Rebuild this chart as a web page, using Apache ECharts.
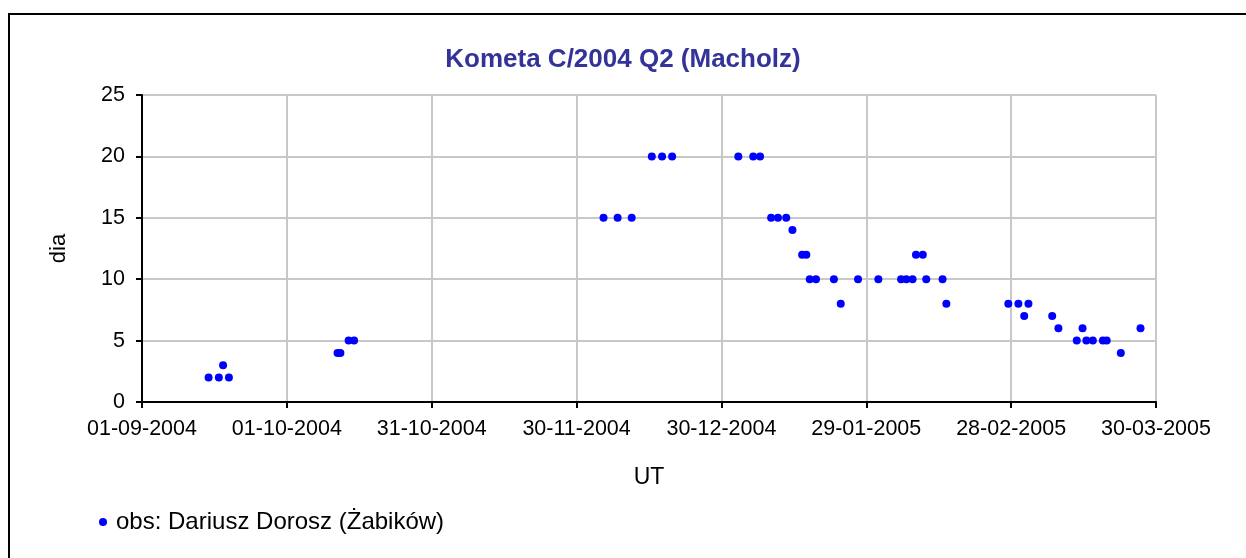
<!DOCTYPE html>
<html>
<head>
<meta charset="utf-8">
<title>Kometa C/2004 Q2 (Macholz)</title>
<script src="https://cdn.jsdelivr.net/npm/echarts@6/dist/echarts.min.js"></script>
<style>
  html, body { margin: 0; padding: 0; background: #fff; }
  #chart { width: 1246px; height: 558px; }
</style>
</head>
<body>
<div id="chart"></div>
<script>
// observation times (UT) and coma diameter
const obsDates = [
  '2004-09-14T19:00', '2004-09-16T22:00', '2004-09-17T19:00', '2004-09-19T00:00',
  '2004-10-11T12:00', '2004-10-12T02:00', '2004-10-13T19:00', '2004-10-14T22:00',
  '2004-12-05T14:00', '2004-12-08T12:00', '2004-12-11T10:00',
  '2004-12-15T14:00', '2004-12-17T17:00', '2004-12-19T19:00',
  '2005-01-02T12:00', '2005-01-05T14:00', '2005-01-07T00:00',
  '2005-01-09T07:00', '2005-01-10T17:00', '2005-01-12T10:00', '2005-01-13T17:00',
  '2005-01-15T17:00', '2005-01-16T14:00', '2005-01-17T07:00', '2005-01-18T14:00',
  '2005-01-22T07:00', '2005-01-23T17:00', '2005-01-27T07:00', '2005-01-31T12:00',
  '2005-02-05T05:00', '2005-02-06T07:00', '2005-02-07T14:00', '2005-02-08T07:00',
  '2005-02-09T17:00', '2005-02-10T10:00', '2005-02-13T19:00', '2005-02-14T14:00',
  '2005-02-27T10:00', '2005-03-01T12:00', '2005-03-02T17:00', '2005-03-03T14:00',
  '2005-03-08T12:00', '2005-03-09T19:00', '2005-03-13T14:00', '2005-03-14T19:00',
  '2005-03-15T14:00', '2005-03-16T22:00', '2005-03-19T00:00', '2005-03-19T19:00',
  '2005-03-22T17:00', '2005-03-26T19:00'
]
const diaValues = [
  2, 2, 3, 2,
  4, 4, 5, 5,
  15, 15, 15,
  20, 20, 20,
  20, 20, 20,
  15, 15, 15, 14,
  12, 12, 10, 10,
  10, 8, 10, 10,
  10, 10, 10, 12,
  12, 10, 10, 8,
  8, 8, 7, 8,
  7, 6, 5, 6,
  5, 5, 5, 5,
  4, 6
]

const axisStart = '2004-09-01'
const axisEnd = '2005-03-30'
const tickDays = 30

const DAY = 86400000
const t0 = Date.parse(axisStart + 'T00:00:00Z')
const toDay = s => (Date.parse((s.length > 10 ? s : s + 'T00:00') + ':00Z') - t0) / DAY

const pad = n => (n < 10 ? '0' : '') + n
const fmtDay = v => {
  const d = new Date(t0 + Math.round(v) * DAY)
  return pad(d.getUTCDate()) + '-' + pad(d.getUTCMonth() + 1) + '-' + d.getUTCFullYear()
}

const seriesData = obsDates.map((s, i) => [toDay(s), diaValues[i]])

const font = 'Arial, "Liberation Sans", sans-serif'
const chart = echarts.init(document.getElementById('chart'))

chart.setOption({
  animation: false,
  textStyle: { fontFamily: font },
  title: {
    text: 'Kometa C/2004 Q2 (Macholz)',
    left: 'center',
    top: 42,
    textStyle: { fontSize: 26, fontWeight: 'bold', color: '#333399', fontFamily: font }
  },
  legend: {
    left: 94,
    top: 505,
    itemWidth: 8,
    itemHeight: 8,
    itemGap: 6,
    textStyle: { fontSize: 24, color: '#000', fontFamily: font, padding: [0, 0, 0, 4] },
    data: [{ name: 'obs: Dariusz Dorosz (Żabików)', icon: 'circle' }]
  },
  grid: { left: 142, right: 90, top: 95, bottom: 156, containLabel: false },
  xAxis: {
    type: 'value',
    min: 0,
    max: toDay(axisEnd),
    interval: tickDays,
    name: 'UT',
    nameLocation: 'middle',
    nameGap: 64,
    nameTextStyle: { fontSize: 23, color: '#000', fontFamily: font },
    axisLine: { show: true, lineStyle: { color: '#000', width: 2 } },
    axisTick: { show: true, length: 6, lineStyle: { color: '#000', width: 2 } },
    axisLabel: { fontSize: 21.5, color: '#000', margin: 16, formatter: fmtDay },
    splitLine: { show: true, lineStyle: { color: '#c8c8c8', width: 2 } }
  },
  yAxis: {
    type: 'value',
    min: 0,
    max: 25,
    interval: 5,
    name: 'dia',
    nameLocation: 'middle',
    nameGap: 72,
    nameTextStyle: { fontSize: 22, color: '#000', fontFamily: font },
    axisLine: { show: true, lineStyle: { color: '#000', width: 2 } },
    axisTick: { show: true, length: 6, lineStyle: { color: '#000', width: 2 } },
    axisLabel: { fontSize: 21.5, color: '#000', margin: 17 },
    splitLine: { show: true, lineStyle: { color: '#c8c8c8', width: 2 } }
  },
  series: [
    {
      name: 'obs: Dariusz Dorosz (Żabików)',
      type: 'scatter',
      symbol: 'circle',
      symbolSize: 8,
      itemStyle: { color: '#0000ff', opacity: 1 },
      data: seriesData
    }
  ],
  graphic: [
    {
      type: 'rect',
      silent: true,
      shape: { x: 9, y: 14, width: 1400, height: 700 },
      style: { fill: 'none', stroke: '#000', lineWidth: 2 }
    }
  ]
})
</script>
</body>
</html>
